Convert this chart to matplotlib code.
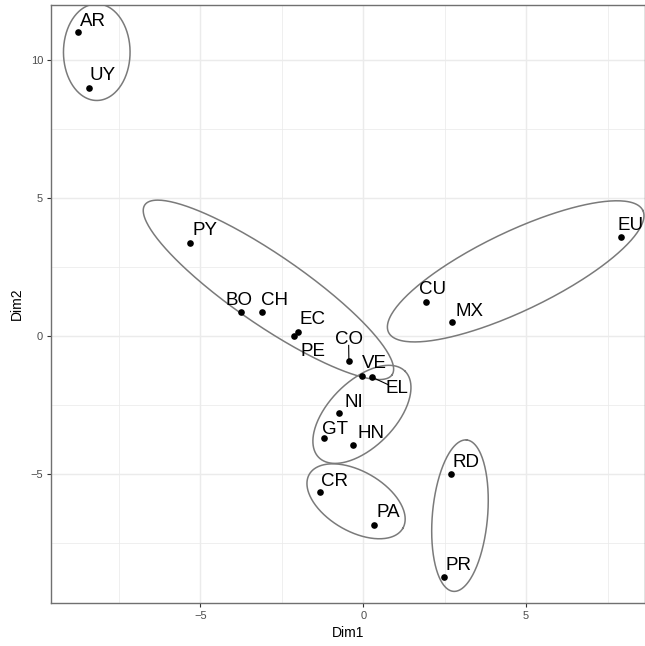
import numpy as np
import matplotlib
matplotlib.use("Agg")
import matplotlib.pyplot as plt
from matplotlib.transforms import offset_copy

plt.rcParams['font.family'] = ['Liberation Sans', 'DejaVu Sans']

# country codes and their coordinates on the first two dimensions
countries = ["AR", "UY", "PY", "BO", "CH", "EC", "PE", "CO", "VE", "EL",
             "NI", "GT", "HN", "CR", "PA", "RD", "PR", "CU", "MX", "EU"]
dim1 = [-8.76, -8.42, -5.32, -3.75, -3.10, -1.99, -2.12, -0.44, -0.03, 0.28,
        -0.73, -1.21, -0.31, -1.33, 0.32, 2.70, 2.49, 1.93, 2.72, 7.92]
dim2 = [11.01, 8.99, 3.37, 0.87, 0.87, 0.16, 0.00, -0.91, -1.44, -1.50,
        -2.80, -3.70, -3.96, -5.65, -6.84, -4.99, -8.72, 1.23, 0.50, 3.59]

# repelled label positions (data units)
label_x = [-8.30, -7.99, -4.87, -3.82, -2.71, -1.56, -1.53, -0.45, 0.33, 1.05,
           -0.30, -0.88, 0.25, -0.87, 0.77, 3.17, 2.94, 2.13, 3.26, 8.22]
label_y = [11.47, 9.49, 3.88, 1.34, 1.34, 0.65, -0.50, -0.04, -0.91, -1.85,
           -2.33, -3.32, -3.48, -5.21, -6.33, -4.52, -8.24, 1.76, 0.97, 4.06]
segment_labels = ["CO", "EL"]

# cluster outlines: centre (data), semi-axes (px), screen angle (deg)
ell_cx = [-8.18, -2.91, 4.68, -0.04, -0.22, 2.97]
ell_cy = [10.28, 1.67, 2.34, -2.84, -5.99, -6.51]
ell_a = [48.3, 150, 141, 61, 54, 76]
ell_b = [33.3, 35, 39.5, 33, 30, 27.6]
ell_ang = [90, -34.5, 25.6, 45, -30, 85]

fig = plt.figure(figsize=(6.45, 6.46), dpi=100)
ax = fig.add_axes([51 / 645, 42.7 / 646, 594 / 645, 598.6 / 646])

ax.set_xlim(-9.585, 8.65)
ax.set_ylim(-9.685, 12.0)
ax.set_xticks([-5, 0, 5])
ax.set_yticks([-5, 0, 5, 10])
ax.set_xticks([-7.5, -2.5, 2.5, 7.5], minor=True)
ax.set_yticks([-7.5, -2.5, 2.5, 7.5], minor=True)
ax.grid(True, which='major', color='#EBEBEB', linewidth=1.07)
ax.grid(True, which='minor', color='#EBEBEB', linewidth=0.55)
ax.set_axisbelow(True)
ax.tick_params(which='major', length=2.75, width=0.8, color='#333333',
               labelsize=8, labelcolor='#4D4D4D', pad=3)
ax.tick_params(which='minor', length=0)
for sp in ax.spines.values():
    sp.set_color('#707070')
    sp.set_linewidth(1.0)

ax.set_xlabel('Dim1', fontsize=10)
ax.set_ylabel('Dim2', fontsize=10)
ax.xaxis.set_label_coords(0.5, -0.0379)
ax.yaxis.set_label_coords(-0.0455, 0.5)

ax.scatter(dim1, dim2, s=23, color='black', zorder=3, linewidths=0)

# nudge down a little so the capitals sit centred on the label position
label_tr = offset_copy(ax.transData, fig=fig, y=-1.4, units='points')
texts = []
for name, lx, ly in zip(countries, label_x, label_y):
    texts.append(ax.text(lx, ly, name, fontsize=13.5, ha='center', va='center',
                         color='black', zorder=4, transform=label_tr))

fig.canvas.draw()
renderer = fig.canvas.get_renderer()
scale = fig.dpi / 100

# ellipses built in screen space, mapped back to data
t = np.linspace(0, 2 * np.pi, 300)
for cx, cy, a, b, ang in zip(ell_cx, ell_cy, ell_a, ell_b, ell_ang):
    c = ax.transData.transform((cx, cy))
    th = np.deg2rad(ang)
    px = a * np.cos(t) * np.cos(th) - b * np.sin(t) * np.sin(th)
    py = a * np.cos(t) * np.sin(th) + b * np.sin(t) * np.cos(th)
    pts = np.column_stack([c[0] + px * scale, c[1] + py * scale])
    d = ax.transData.inverted().transform(pts)
    ax.plot(d[:, 0], d[:, 1], color='#7A7A7A', linewidth=1.1, zorder=2)

# label segments, from point to label box edge
for name in segment_labels:
    i = countries.index(name)
    bb = texts[i].get_window_extent(renderer)
    p = ax.transData.transform((dim1[i], dim2[i]))
    c = np.array([(bb.x0 + bb.x1) / 2, (bb.y0 + bb.y1) / 2])
    hw, hh = bb.width / 2 * 0.8, bb.height / 2 * 0.75
    dx, dy = p - c
    k = min(hw / abs(dx) if dx else np.inf, hh / abs(dy) if dy else np.inf)
    e = c + (p - c) * k
    seg = ax.transData.inverted().transform(np.vstack([p, e]))
    ax.plot(seg[:, 0], seg[:, 1], color='black', linewidth=0.8, zorder=3)

fig.savefig('out.png', dpi=100)
